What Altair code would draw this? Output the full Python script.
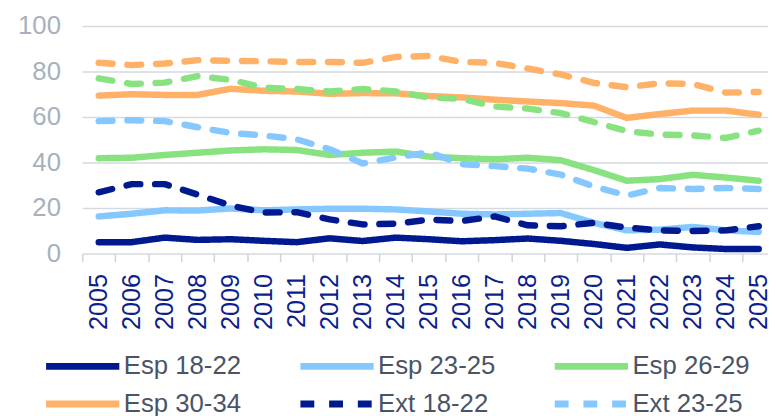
import altair as alt
import pandas as pd

years = list(range(2005, 2026))
series_names = ["Esp 18-22", "Esp 23-25", "Esp 26-29", "Esp 30-34",
                "Ext 18-22", "Ext 23-25", "Ext 26-29", "Ext 30-34"]

esp_18_22 = [5, 5, 7, 6, 6.3, 5.6, 5, 6.7, 5.5, 7, 6.3, 5.4, 5.9, 6.6, 5.6, 4.2, 2.5, 4, 2.7, 2, 2]
esp_23_25 = [16.3, 17.5, 19, 18.9, 19.8, 19, 19.4, 19.7, 19.7, 19.4, 18.5, 17.5, 17.2, 17.5, 17.8, 13.5, 10.2, 10.5, 11.7, 10.2, 9.5]
esp_26_29 = [41.9, 42.1, 43.3, 44.3, 45.3, 45.8, 45.5, 43.3, 44.3, 44.8, 42.6, 41.9, 41.4, 42.1, 41, 36.7, 32, 32.7, 34.6, 33.4, 32]
esp_30_34 = [69.4, 70, 69.7, 69.7, 72.4, 71.5, 71.2, 70.2, 70.5, 70.4, 69.2, 68.6, 67.6, 66.8, 66.1, 65, 59.6, 61.3, 62.8, 62.8, 61]
ext_18_22 = [26.9, 30.5, 30.5, 25.9, 21.1, 18, 18.2, 15, 12.8, 13.1, 14.9, 14.3, 16.3, 12.4, 12, 13.5, 11.4, 10.2, 9.9, 10.2, 12]
ext_23_25 = [58.2, 58.6, 58.2, 55.5, 53, 51.9, 50.2, 45.8, 39.6, 42.2, 44.5, 39.3, 38.4, 37.3, 34.7, 29.5, 25.5, 28.8, 28.4, 28.8, 28.4]
ext_26_29 = [77, 74.5, 75.1, 78, 76.3, 72.9, 72.3, 71.2, 72.3, 71.2, 68.6, 68, 64.6, 63.7, 61.7, 57.8, 53.8, 52.3, 51.9, 50.8, 54]
ext_30_34 = [83.8, 82.8, 83.5, 85, 84.7, 84.5, 84.2, 84.2, 83.8, 86.4, 86.8, 84.2, 83.8, 81.3, 78.7, 75, 73.1, 74.8, 74.5, 70.7, 71]

all_values = [esp_18_22, esp_23_25, esp_26_29, esp_30_34,
              ext_18_22, ext_23_25, ext_26_29, ext_30_34]

colors = ["#00198F", "#85C8FF", "#88E27F", "#FFB168"] * 2
dashes = [[1, 0]] * 4 + [[14, 15]] * 4
y_ticks = [0, 20, 40, 60, 80, 100]

rows = []
for name, vals in zip(series_names, all_values):
    for yr, v in zip(years, vals):
        rows.append({"year": yr, "series": name, "value": v, "group": name[:3]})
df = pd.DataFrame(rows)

legend = alt.Legend(
    title=None, orient="none", direction="horizontal", legendX=-40, legendY=325, columns=3,
    symbolType="stroke", symbolSize=5476, symbolStrokeWidth=7,
    labelFontSize=26, labelColor="#4A5466", labelOffset=1, labelLimit=400,
    columnPadding=56, rowPadding=0, clipHeight=38, padding=0,
)

x = alt.X("year:Q",
          scale=alt.Scale(domain=[2004.5, 2025.28], nice=False, zero=False),
          axis=alt.Axis(values=years, format="d", labelAngle=270, title=None,
                        grid=False, domain=False, ticks=True, tickSize=8,
                        tickColor="#CDD3DA", tickWidth=1.5,
                        tickOffset=-16.68, labelOffset=16.68,
                        labelFlush=False, labelOverlap=False, labelBound=False,
                        labelFontSize=25.5, labelColor="#0D1F8C", labelPadding=12))
y = alt.Y("value:Q",
          scale=alt.Scale(domain=[0, 100], nice=False),
          axis=alt.Axis(values=y_ticks, title=None, domain=False, ticks=False,
                        grid=True, gridColor="#D5DAE1", gridWidth=1.5,
                        labelFontSize=26, labelColor="#A7B1BE", labelPadding=22))
color = alt.Color("series:N", scale=alt.Scale(domain=series_names, range=colors), legend=legend)
dash = alt.StrokeDash("series:N", scale=alt.Scale(domain=series_names, range=dashes), legend=legend)

base = alt.Chart(df).mark_line(strokeWidth=6.5, strokeCap="round", strokeJoin="round").encode(
    x=x, y=y, color=color, strokeDash=dash, detail="series:N"
)
esp = base.transform_filter(alt.datum.group == "Esp")
ext = base.transform_filter(alt.datum.group == "Ext")

chart = alt.layer(esp, ext).properties(
    width=693, height=230,
    autosize=alt.AutoSizeParams(type="none"),
    padding={"left": 75, "top": 16, "right": 0, "bottom": 162},
).configure(font="Liberation Sans").configure_view(stroke=None)

chart.save("out.html", embed_options={"renderer": "svg", "actions": False})
